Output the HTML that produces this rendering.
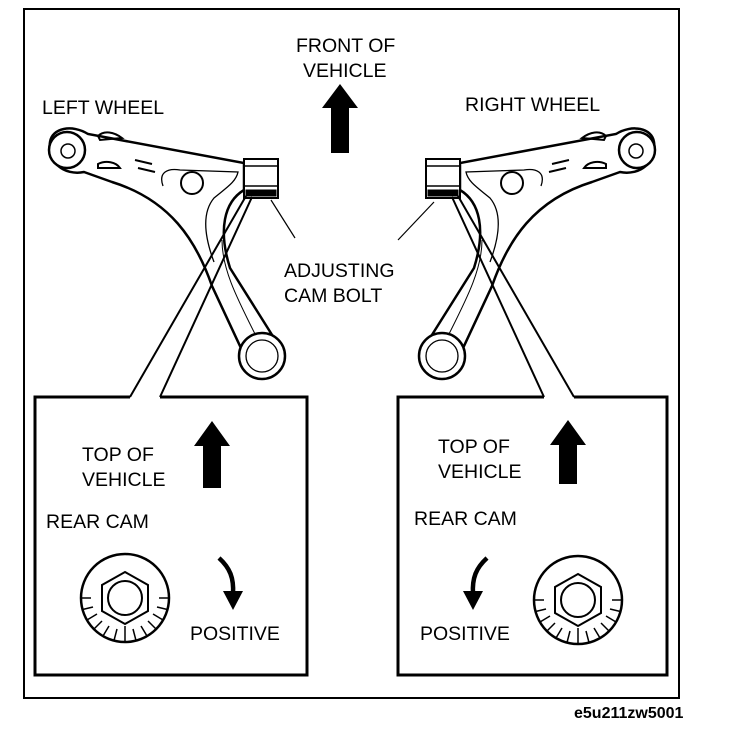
<!DOCTYPE html>
<html><head><meta charset="utf-8"><style>
html,body{margin:0;padding:0;background:#fff}
svg{display:block}
text{font-family:"Liberation Sans",Arial,sans-serif;font-size:19.5px;fill:#000}
</style></head><body>
<svg width="736" height="734" viewBox="0 0 736 734" xmlns="http://www.w3.org/2000/svg">
<defs>
<g id="arm" fill="none" stroke="#000">
  <path d="M50 142 C52 128 72 124 88 134 L244 163 L244 190 C224 202 218 230 230 268 L274 338 L240 346 L212 286 C196 240 170 200 112 182 L84 172 C64 176 47 162 50 142 Z" fill="#fff" stroke-width="2.5"/>
  <circle cx="67" cy="150" r="18" fill="#fff" stroke-width="2.5"/>
  <circle cx="68" cy="151" r="7" stroke-width="1.5"/>
  <path d="M163 186 C158 172 168 168 180 170 L238 172 C236 182 226 188 214 198 C204 210 202 230 214 262" stroke-width="1.3"/>
  <circle cx="192" cy="183" r="11" stroke-width="2"/>
  <path d="M98 136 C104 130 114 132 122 138 L100 140 Z M98 164 C106 160 116 162 120 168 L98 168 Z M135 160 L152 164 M138 168 L155 172" stroke-width="2"/>
  <path d="M222 240 C222 270 238 300 256 336" stroke-width="1"/>
  <circle cx="262" cy="356" r="23" fill="#fff" stroke-width="2.5"/>
  <circle cx="262" cy="356" r="16" stroke-width="1.3"/>
  <rect x="244" y="159" width="34" height="39" fill="#fff" stroke-width="2"/>
  <line x1="244" y1="166" x2="278" y2="166" stroke-width="1.5"/>
  <line x1="244" y1="186" x2="278" y2="186" stroke-width="1.5"/>
  <rect x="246" y="190" width="30" height="6" fill="#000"/>
</g>
<g id="cam" fill="none" stroke="#000">
  <circle r="44" stroke-width="2.5" fill="#fff"/>
  <polygon points="0,-26 23,-13 23,13 0,26 -23,13 -23,-13" stroke-width="2"/>
  <circle r="17" stroke-width="2"/>
  <g stroke-width="1.5">
    <line x1="-44" y1="0" x2="-34" y2="0"/><line x1="44" y1="0" x2="34" y2="0"/>
    <line x1="-42.4" y1="11.5" x2="-32" y2="9"/><line x1="42.4" y1="11.5" x2="32" y2="9"/>
    <line x1="-38" y1="22" x2="-28" y2="16"/><line x1="38" y1="22" x2="28" y2="16"/>
    <line x1="-31" y1="31" x2="-23" y2="23"/><line x1="31" y1="31" x2="23" y2="23"/>
    <line x1="-22" y1="38" x2="-16" y2="28"/><line x1="22" y1="38" x2="16" y2="28"/>
    <line x1="-11" y1="42.5" x2="-8" y2="31"/><line x1="11" y1="42.5" x2="8" y2="31"/>
    <line x1="0" y1="44" x2="0" y2="28"/>
  </g>
</g>
</defs>
<rect x="24" y="9" width="655" height="689" fill="none" stroke="#000" stroke-width="2"/>
<use href="#arm"/>
<use href="#arm" transform="translate(704,0) scale(-1,1)"/>
<g stroke="#000" stroke-width="2" fill="none">
  <line x1="246" y1="196" x2="130" y2="397"/>
  <line x1="252" y1="197" x2="160" y2="397"/>
  <line x1="458" y1="196" x2="574" y2="397"/>
  <line x1="452" y1="197" x2="544" y2="397"/>
  <path d="M130 397 L35 397 L35 675 L307 675 L307 397 L160 397" stroke-width="3"/>
  <path d="M544 397 L398 397 L398 675 L667 675 L667 397 L574 397" stroke-width="3"/>
  <line x1="271" y1="200" x2="295" y2="238" stroke-width="1.2"/>
  <line x1="434" y1="202" x2="398" y2="240" stroke-width="1.2"/>
</g>
<polygon points="340,84 358,108 349,108 349,153 331,153 331,108 322,108" fill="#000"/>
<polygon points="212,421 230,446 221,446 221,488 203,488 203,446 194,446" fill="#000"/>
<polygon points="568,420 586,445 577,445 577,484 559,484 559,445 550,445" fill="#000"/>
<path d="M219 558 C230 568 234 578 233 594" fill="none" stroke="#000" stroke-width="4.5"/>
<polygon points="223,591 243,591 233,610" fill="#000"/>
<path d="M487 558 C476 568 472 578 473 594" fill="none" stroke="#000" stroke-width="4.5"/>
<polygon points="463,591 483,591 473,610" fill="#000"/>
<use href="#cam" x="125" y="598"/>
<use href="#cam" x="578" y="600"/>
<text x="296" y="52">FRONT OF</text>
<text x="303" y="77">VEHICLE</text>
<text x="42" y="114">LEFT WHEEL</text>
<text x="465" y="111">RIGHT WHEEL</text>
<text x="284" y="277">ADJUSTING</text>
<text x="284" y="302">CAM BOLT</text>
<text x="82" y="461">TOP OF</text>
<text x="82" y="486">VEHICLE</text>
<text x="438" y="453">TOP OF</text>
<text x="438" y="478">VEHICLE</text>
<text x="46" y="528">REAR CAM</text>
<text x="414" y="525">REAR CAM</text>
<text x="190" y="640">POSITIVE</text>
<text x="420" y="640">POSITIVE</text>
<text x="574" y="718" style="font-size:16px;font-weight:bold">e5u211zw5001</text>
</svg>
</body></html>
